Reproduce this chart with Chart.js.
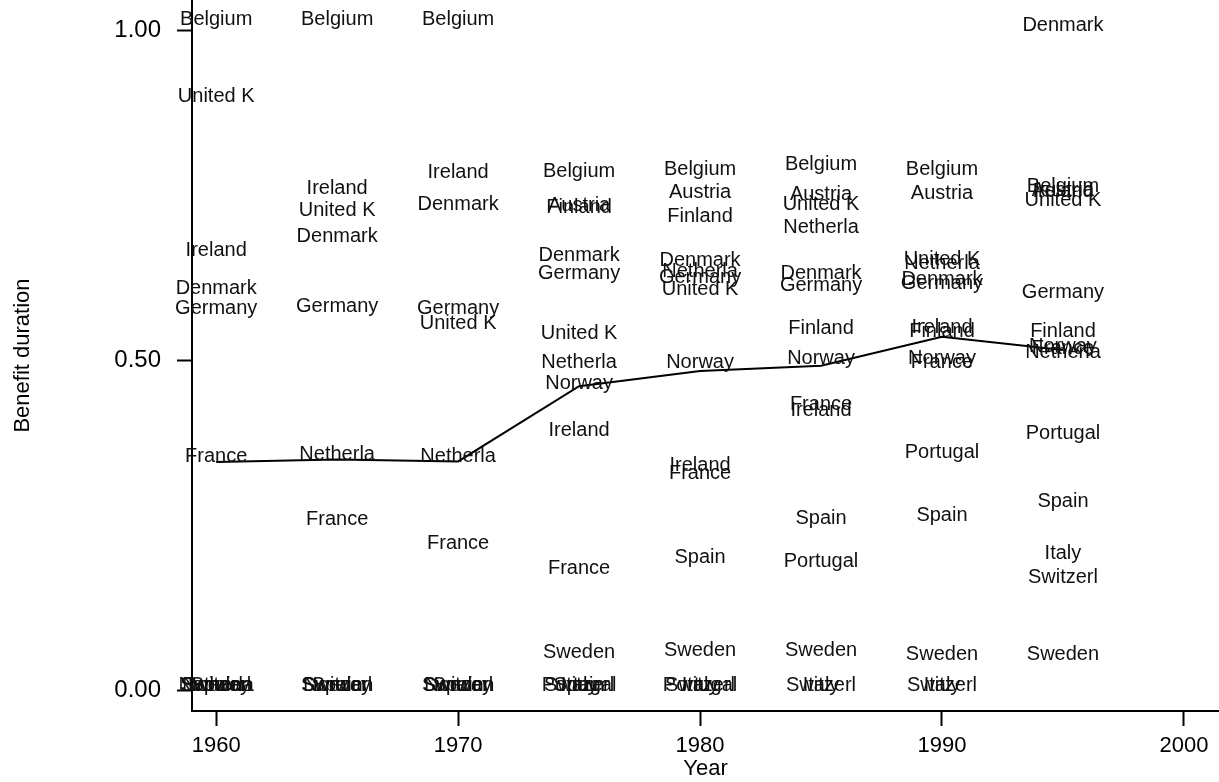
<!DOCTYPE html>
<html>
<head>
<meta charset="utf-8">
<script src="https://cdn.jsdelivr.net/npm/chart.js@4.4.1/dist/chart.umd.min.js"></script>
<style>
  html, body { margin: 0; padding: 0; background: #fff; }
  canvas { display: block; }
</style>
</head>
<body>
<canvas id="benefit-chart" width="1219" height="782"></canvas>
<script>
// Years of observation (x) and country labels
const years = [1960, 1965, 1970, 1975, 1980, 1985, 1990, 1995];
const countries = [
  "Austria", "Belgium", "Denmark", "Finland", "France", "Germany", "Ireland",
  "Italy", "Netherla", "Norway", "Portugal", "Spain", "Sweden", "Switzerl", "United K",
];

// Benefit duration per country (null = not observed)
const austria = [null, null, null, 0.727, 0.747, 0.744, 0.745, 0.75];
const belgium = [1.01, 1.01, 1.01, 0.779, 0.782, 0.79, 0.782, 0.756];
const denmark = [0.601, 0.68, 0.729, 0.651, 0.644, 0.624, 0.615, 1.0];
const finland = [null, null, null, 0.724, 0.711, 0.541, 0.537, 0.537];
const france = [0.347, 0.251, 0.215, 0.177, 0.321, 0.425, 0.49, 0.511];
const germany = [0.571, 0.574, 0.572, 0.624, 0.619, 0.606, 0.609, 0.596];
const ireland = [0.659, 0.753, 0.777, 0.387, 0.333, 0.416, 0.543, 0.749];
const italy = [null, null, null, 0, 0, 0, 0, 0.2];
const netherla = [0, 0.35, 0.347, 0.489, 0.628, 0.694, 0.64, 0.504];
const norway = [0, 0, 0, 0.458, 0.489, 0.495, 0.496, 0.514];
const portugal = [null, null, null, 0, 0, 0.188, 0.353, 0.382];
const spain = [0, 0, 0, 0, 0.194, 0.253, 0.258, 0.279];
const sweden = [0, 0, 0, 0.049, 0.053, 0.053, 0.046, 0.046];
const switzerl = [0, 0, 0, 0, 0, 0, 0, 0.164];
const unitedK = [0.893, 0.72, 0.549, 0.534, 0.6, 0.729, 0.646, 0.735];

// Median line across countries
const medianDuration = [0.346, 0.35, 0.347, 0.461, 0.484, 0.492, 0.536, 0.516];

// Axis ticks
const xTickValues = [1960, 1970, 1980, 1990, 2000];
const yTickValues = [0, 0.5, 1];

const countryValues = [
  austria, belgium, denmark, finland, france, germany, ireland,
  italy, netherla, norway, portugal, spain, sweden, switzerl, unitedK,
];

const FONT = "'Liberation Sans', Arial, Helvetica, sans-serif";

function toPoints(values) {
  return years
    .map((year, i) => ({ x: year, y: values[i] }))
    .filter((p) => p.y !== null);
}

const datasets = countries.map((name, i) => ({
  type: "scatter",
  label: name,
  data: toPoints(countryValues[i]),
  pointRadius: 0,
  showLine: false,
  countryLabel: true,
}));

datasets.push({
  type: "line",
  label: "median",
  data: toPoints(medianDuration),
  borderColor: "#000",
  borderWidth: 2,
  pointRadius: 0,
  tension: 0,
  fill: false,
});

// Draw the country names as the markers
const countryLabels = {
  id: "countryLabels",
  afterDatasetsDraw(chart) {
    const ctx = chart.ctx;
    ctx.save();
    ctx.font = "20px " + FONT;
    ctx.fillStyle = "#111";
    ctx.textAlign = "center";
    ctx.textBaseline = "middle";
    chart.data.datasets.forEach((ds, i) => {
      if (!ds.countryLabel) return;
      chart.getDatasetMeta(i).data.forEach((el) => {
        ctx.fillText(ds.label, el.x, el.y - 5);
      });
    });
    ctx.restore();
  },
};

new Chart(document.getElementById("benefit-chart"), {
  data: { datasets: datasets },
  plugins: [countryLabels],
  options: {
    responsive: false,
    animation: false,
    devicePixelRatio: 1,
    layout: { padding: 0 },
    plugins: {
      legend: { display: false },
      tooltip: { enabled: false },
    },
    scales: {
      x: {
        type: "linear",
        min: 1959,
        max: 2001.45,
        afterBuildTicks: (axis) => {
          axis.ticks = xTickValues.map((v) => ({ value: v }));
        },
        afterFit: (axis) => {
          axis.height = 71;
          axis.paddingLeft = 0;
          axis.paddingRight = 0;
        },
        grid: {
          display: true,
          drawOnChartArea: false,
          drawTicks: true,
          tickLength: 15,
          tickWidth: 2,
          tickColor: "#000",
        },
        border: { display: true, color: "#000", width: 2 },
        ticks: {
          color: "#000",
          padding: 7,
          maxRotation: 0,
          autoSkip: false,
          font: { family: FONT, size: 22 },
          callback: (v) => String(v),
        },
        title: {
          display: true,
          text: "Year",
          color: "#000",
          padding: { top: 0, bottom: 0 },
          font: { family: FONT, size: 22 },
        },
      },
      y: {
        type: "linear",
        min: -0.0315,
        max: 1.0467,
        afterBuildTicks: (axis) => {
          axis.ticks = yTickValues.map((v) => ({ value: v }));
        },
        afterFit: (axis) => {
          axis.width = 192;
          axis.paddingTop = 0;
          axis.paddingBottom = 0;
        },
        grid: {
          display: true,
          drawOnChartArea: false,
          drawTicks: true,
          tickLength: 15,
          tickWidth: 2,
          tickColor: "#000",
        },
        border: { display: true, color: "#000", width: 2 },
        ticks: {
          color: "#000",
          padding: 16,
          autoSkip: false,
          font: { family: FONT, size: 24 },
          callback: (v) => Number(v).toFixed(2),
        },
        title: {
          display: true,
          text: "Benefit duration",
          color: "#000",
          padding: { top: 10, bottom: 0 },
          font: { family: FONT, size: 22 },
        },
      },
    },
  },
});
</script>
</body>
</html>
